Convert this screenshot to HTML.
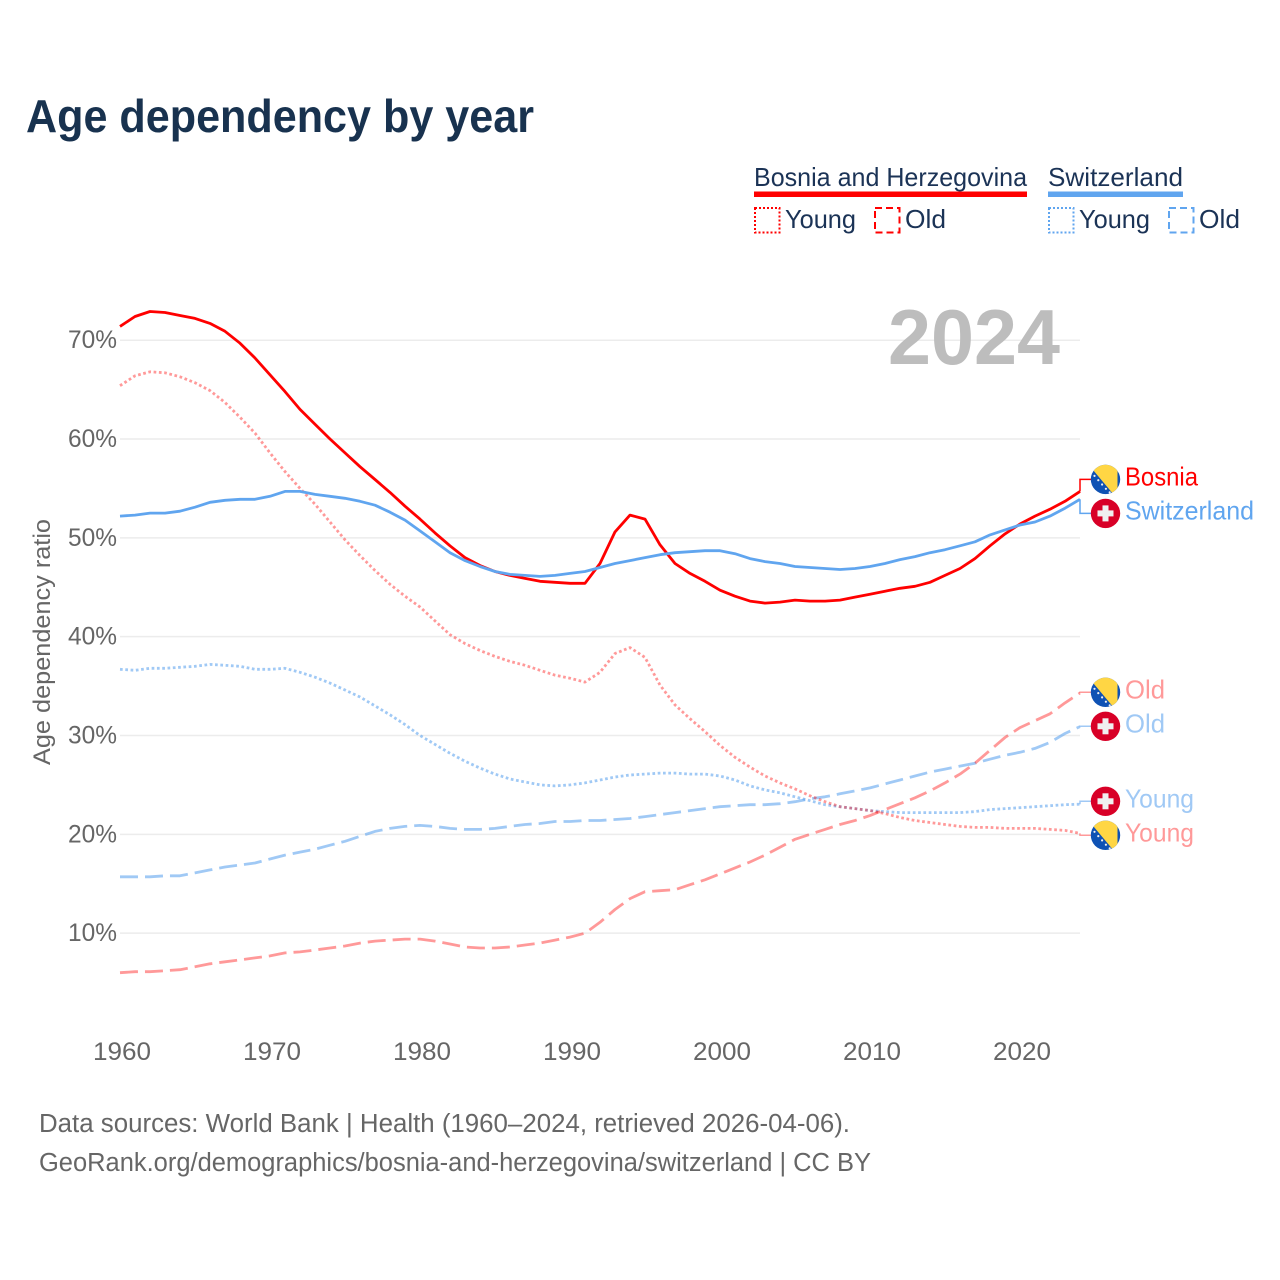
<!DOCTYPE html>
<html lang="en">
<head>
<meta charset="utf-8">
<title>Age dependency by year</title>
<style>
html,body{margin:0;padding:0;background:#fff;width:1280px;height:1280px;overflow:hidden}
svg{display:block}
text{font-family:"Liberation Sans",sans-serif}
.legend-text{font-size:26px;fill:#1b3356}
.tick{font-size:25px;fill:#666}
.source{font-size:25.5px;fill:#666}
.end-label{font-size:26px}
</style>
</head>
<body>
<svg id="chart" xmlns="http://www.w3.org/2000/svg" width="1280" height="1280" viewBox="0 0 1280 1280">
  <defs>
    <clipPath id="flag-clip"><circle cx="0" cy="0" r="14.7"/></clipPath>
  </defs>
  <rect x="0" y="0" width="1280" height="1280" fill="#fff"/>
  <text x="26" y="132" font-size="46" font-weight="700" fill="#18324f" textLength="508" lengthAdjust="spacingAndGlyphs">Age dependency by year</text>

  <g>
    <text class="legend-text" x="754" y="186" textLength="273" lengthAdjust="spacingAndGlyphs">Bosnia and Herzegovina</text>
    <rect x="754" y="191.5" width="273" height="5.5" fill="#ff0000"/>
    <text class="legend-text" x="1048" y="186" textLength="135" lengthAdjust="spacingAndGlyphs">Switzerland</text>
    <rect x="1048" y="191.5" width="135" height="5.5" fill="#60a5ef"/>
    <rect x="755" y="208" width="24.5" height="24.5" fill="none" stroke="#ff0000" stroke-width="2" stroke-dasharray="2 2"/>
    <text class="legend-text" x="785" y="228" textLength="71" lengthAdjust="spacingAndGlyphs">Young</text>
    <rect x="875" y="208" width="24.5" height="24.5" fill="none" stroke="#ff0000" stroke-width="2" stroke-dasharray="7 4"/>
    <text class="legend-text" x="905" y="228" textLength="41" lengthAdjust="spacingAndGlyphs">Old</text>
    <rect x="1049" y="208" width="24.5" height="24.5" fill="none" stroke="#60a5ef" stroke-width="2" stroke-dasharray="2 2"/>
    <text class="legend-text" x="1079" y="228" textLength="71" lengthAdjust="spacingAndGlyphs">Young</text>
    <rect x="1169" y="208" width="24.5" height="24.5" fill="none" stroke="#60a5ef" stroke-width="2" stroke-dasharray="7 4"/>
    <text class="legend-text" x="1199" y="228" textLength="41" lengthAdjust="spacingAndGlyphs">Old</text>
  </g>

  <g id="grid"></g>
  <text x="888" y="364" font-size="78" font-weight="700" fill="#bdbdbd" textLength="172" lengthAdjust="spacingAndGlyphs">2024</text>
  <g id="y-ticks"></g>
  <g id="x-ticks"></g>
  <text transform="translate(50 642) rotate(-90)" text-anchor="middle" font-size="24.5" fill="#666" textLength="246" lengthAdjust="spacingAndGlyphs">Age dependency ratio</text>
  <g id="series"></g>
  <g id="labels"></g>

  <text class="source" x="39" y="1132" textLength="811" lengthAdjust="spacingAndGlyphs">Data sources: World Bank | Health (1960–2024, retrieved 2026-04-06).</text>
  <text class="source" x="39" y="1171" textLength="832" lengthAdjust="spacingAndGlyphs">GeoRank.org/demographics/bosnia-and-herzegovina/switzerland | CC BY</text>
</svg>
<script>
const startYear = 1960;
const endYear = 2024;
const xTickYears = [1960, 1970, 1980, 1990, 2000, 2010, 2020];
const yTickValues = [10, 20, 30, 40, 50, 60, 70];

const bosniaTotal = [71.4,72.4,72.9,72.8,72.5,72.2,71.7,70.9,69.7,68.2,66.5,64.8,63.0,61.5,60.0,58.6,57.2,55.9,54.6,53.2,51.9,50.5,49.2,48.0,47.2,46.6,46.2,45.9,45.6,45.5,45.4,45.4,47.4,50.6,52.3,51.9,49.3,47.4,46.4,45.6,44.7,44.1,43.6,43.4,43.5,43.7,43.6,43.6,43.7,44.0,44.3,44.6,44.9,45.1,45.5,46.2,46.9,47.9,49.2,50.4,51.4,52.2,52.9,53.7,54.7];
const switzerlandTotal = [52.2,52.3,52.5,52.5,52.7,53.1,53.6,53.8,53.9,53.9,54.2,54.7,54.7,54.4,54.2,54.0,53.7,53.3,52.6,51.8,50.7,49.6,48.5,47.7,47.1,46.6,46.3,46.2,46.1,46.2,46.4,46.6,47.0,47.4,47.7,48.0,48.3,48.5,48.6,48.7,48.7,48.4,47.9,47.6,47.4,47.1,47.0,46.9,46.8,46.9,47.1,47.4,47.8,48.1,48.5,48.8,49.2,49.6,50.3,50.8,51.3,51.6,52.2,53.0,53.9];
const bosniaYoung = [65.4,66.4,66.8,66.7,66.3,65.7,64.9,63.7,62.2,60.6,58.6,56.7,55.0,53.4,51.6,49.8,48.2,46.7,45.3,44.1,43.0,41.6,40.2,39.3,38.6,38.0,37.5,37.1,36.6,36.1,35.8,35.4,36.4,38.3,38.9,37.9,35.1,33.1,31.7,30.4,29.0,27.8,26.8,25.9,25.2,24.6,23.9,23.3,22.8,22.6,22.4,22.1,21.7,21.4,21.2,21.0,20.8,20.7,20.7,20.6,20.6,20.6,20.5,20.4,20.1];
const bosniaOld = [6.0,6.1,6.1,6.2,6.3,6.6,6.9,7.1,7.3,7.5,7.7,8.0,8.1,8.3,8.5,8.7,9.0,9.2,9.3,9.4,9.4,9.2,8.9,8.6,8.5,8.5,8.6,8.8,9.0,9.3,9.6,10.0,11.1,12.4,13.5,14.2,14.3,14.4,14.9,15.4,16.0,16.6,17.2,17.9,18.7,19.5,20.0,20.5,21.0,21.4,21.9,22.5,23.1,23.7,24.4,25.2,26.1,27.2,28.5,29.8,30.8,31.5,32.2,33.3,34.3];
const switzerlandYoung = [36.7,36.6,36.8,36.8,36.9,37.0,37.2,37.1,37.0,36.7,36.7,36.8,36.4,35.9,35.3,34.6,33.9,33.0,32.1,31.1,30.0,29.1,28.2,27.4,26.7,26.1,25.6,25.3,25.0,24.9,25.0,25.2,25.5,25.8,26.0,26.1,26.2,26.2,26.1,26.1,25.9,25.5,24.9,24.5,24.2,23.8,23.4,23.0,22.8,22.6,22.4,22.3,22.2,22.2,22.2,22.2,22.2,22.3,22.5,22.6,22.7,22.8,22.9,23.0,23.05];
const switzerlandOld = [15.7,15.7,15.7,15.8,15.8,16.1,16.4,16.7,16.9,17.1,17.5,17.9,18.2,18.5,18.9,19.3,19.8,20.3,20.6,20.8,20.9,20.8,20.6,20.5,20.5,20.6,20.8,21.0,21.1,21.3,21.3,21.4,21.4,21.5,21.6,21.8,22.0,22.2,22.4,22.6,22.8,22.9,23.0,23.0,23.1,23.3,23.6,23.8,24.1,24.4,24.7,25.1,25.5,25.9,26.3,26.6,26.9,27.2,27.6,28.0,28.3,28.7,29.3,30.2,30.9];

const SVG_NS = 'http://www.w3.org/2000/svg';
const plotLeft = 120, plotRight = 1080, yAt0 = 1032, pxPerPct = 9.883;
const RED = '#ff0000', BLUE = '#60a5ef', DOT = '2.7 2.6', DASH = '18 7';

function xScale(year) {
  return plotLeft + (year - startYear) * (plotRight - plotLeft) / (endYear - startYear);
}
function yScale(value) {
  return yAt0 - value * pxPerPct;
}
function make(tag, parent, attrs, text) {
  const el = document.createElementNS(SVG_NS, tag);
  Object.keys(attrs).forEach(function (k) { el.setAttribute(k, attrs[k]); });
  if (text !== undefined) el.textContent = text;
  parent.appendChild(el);
  return el;
}

const gridGroup = document.getElementById('grid');
const yGroup = document.getElementById('y-ticks');
const xGroup = document.getElementById('x-ticks');
const seriesGroup = document.getElementById('series');
const labelGroup = document.getElementById('labels');

yTickValues.forEach(function (v) {
  const line = make('line', gridGroup, {x1: plotLeft, x2: plotRight, y1: yScale(v), y2: yScale(v), stroke: '#ececec', 'stroke-width': 1.5});
  
  
  const t = make('text', yGroup, {x: 68, y: yScale(v) + 8, 'class': 'tick', textLength: 49, lengthAdjust: 'spacingAndGlyphs'}, v + '%');
  
  
});
xTickYears.forEach(function (yr) {
  const t = make('text', xGroup, {x: xScale(yr) - 27, y: 1060, 'class': 'tick', textLength: 58, lengthAdjust: 'spacingAndGlyphs'}, String(yr));
  
  
});

function drawSeries(name, values, color, opacity, dash) {
  const d = values.map(function (v, i) {
    return (i ? 'L' : 'M') + xScale(startYear + i).toFixed(1) + ' ' + yScale(v).toFixed(1);
  }).join(' ');
  const attrs = {d: d, fill: 'none', stroke: color, 'stroke-width': 2.8, 'stroke-opacity': opacity, 'stroke-linejoin': 'round'};
  if (dash) attrs['stroke-dasharray'] = dash;
  const path = make('path', seriesGroup, attrs);
  
  
}
drawSeries('line-switzerland-young', switzerlandYoung, BLUE, 0.6, DOT);
drawSeries('line-switzerland-old', switzerlandOld, BLUE, 0.6, DASH);
drawSeries('line-bosnia-young', bosniaYoung, RED, 0.4, DOT);
drawSeries('line-bosnia-old', bosniaOld, RED, 0.4, DASH);
drawSeries('line-bosnia-total', bosniaTotal, RED, 1, null);
drawSeries('line-switzerland-total', switzerlandTotal, BLUE, 1, null);

function dodgePair(a, b, gap, nudge) {
  const ya = yScale(a), yb = yScale(b);
  const shift = Math.max(0, gap - Math.abs(yb - ya)) / 2;
  return ya < yb ? [ya - shift + nudge, yb + shift + nudge] : [ya + shift + nudge, yb - shift + nudge];
}

function drawFlag(country, cy, key) {
  const g = make('g', labelGroup, {transform: 'translate(1105.5 ' + cy.toFixed(1) + ')'});
  
  
  const clip = make('g', g, {'clip-path': 'url(#flag-clip)'});
  if (country === 'bosnia') {
    make('rect', clip, {x: -15, y: -15, width: 30, height: 30, fill: '#0f52b4'});
    make('polygon', clip, {points: '-13,-10 8,15 12,15 12,-15 -13,-15', fill: '#ffd644'});
    [[-11, -3.5], [-7.2, 0.8], [-3.4, 5.1], [0.4, 9.4], [4.2, 13]].forEach(function (p) {
      make('circle', clip, {cx: p[0], cy: p[1], r: 1.1, fill: '#f0f0f0'});
    });
  } else {
    make('rect', clip, {x: -15, y: -15, width: 30, height: 30, fill: '#d80027'});
    make('rect', clip, {x: -8, y: -3, width: 16, height: 6, fill: '#f0f0f0'});
    make('rect', clip, {x: -3, y: -8, width: 6, height: 16, fill: '#f0f0f0'});
  }
}

function drawEndLabel(key, country, text, value, labelY, color, opacity) {
  const attrs = {d: 'M' + plotRight + ' ' + yScale(value).toFixed(1) + ' V' + labelY.toFixed(1) + ' H1091', fill: 'none', stroke: color, 'stroke-width': 1.5, 'stroke-opacity': opacity};
  const conn = make('path', labelGroup, attrs);
  
  
  drawFlag(country, labelY, key);
  const t = make('text', labelGroup, {x: 1125, y: labelY + 6, 'class': 'end-label', fill: color, 'fill-opacity': opacity, textLength: {Bosnia: 73, Switzerland: 129, Old: 40, Young: 69}[text], lengthAdjust: 'spacingAndGlyphs'}, text);
  
  
}

const lastIndex = endYear - startYear;
const totalY = dodgePair(bosniaTotal[lastIndex], switzerlandTotal[lastIndex], 34, 1);
const oldY = dodgePair(bosniaOld[lastIndex], switzerlandOld[lastIndex], 34, -0.5);
const youngY = dodgePair(bosniaYoung[lastIndex], switzerlandYoung[lastIndex], 34, -0.5);

drawEndLabel('bosnia-total', 'bosnia', 'Bosnia', bosniaTotal[lastIndex], totalY[0], RED, 1);
drawEndLabel('switzerland-total', 'switzerland', 'Switzerland', switzerlandTotal[lastIndex], totalY[1], BLUE, 1);
drawEndLabel('bosnia-old', 'bosnia', 'Old', bosniaOld[lastIndex], oldY[0], RED, 0.4);
drawEndLabel('switzerland-old', 'switzerland', 'Old', switzerlandOld[lastIndex], oldY[1], BLUE, 0.6);
drawEndLabel('bosnia-young', 'bosnia', 'Young', bosniaYoung[lastIndex], youngY[0], RED, 0.4);
drawEndLabel('switzerland-young', 'switzerland', 'Young', switzerlandYoung[lastIndex], youngY[1], BLUE, 0.6);
</script>
</body>
</html>
